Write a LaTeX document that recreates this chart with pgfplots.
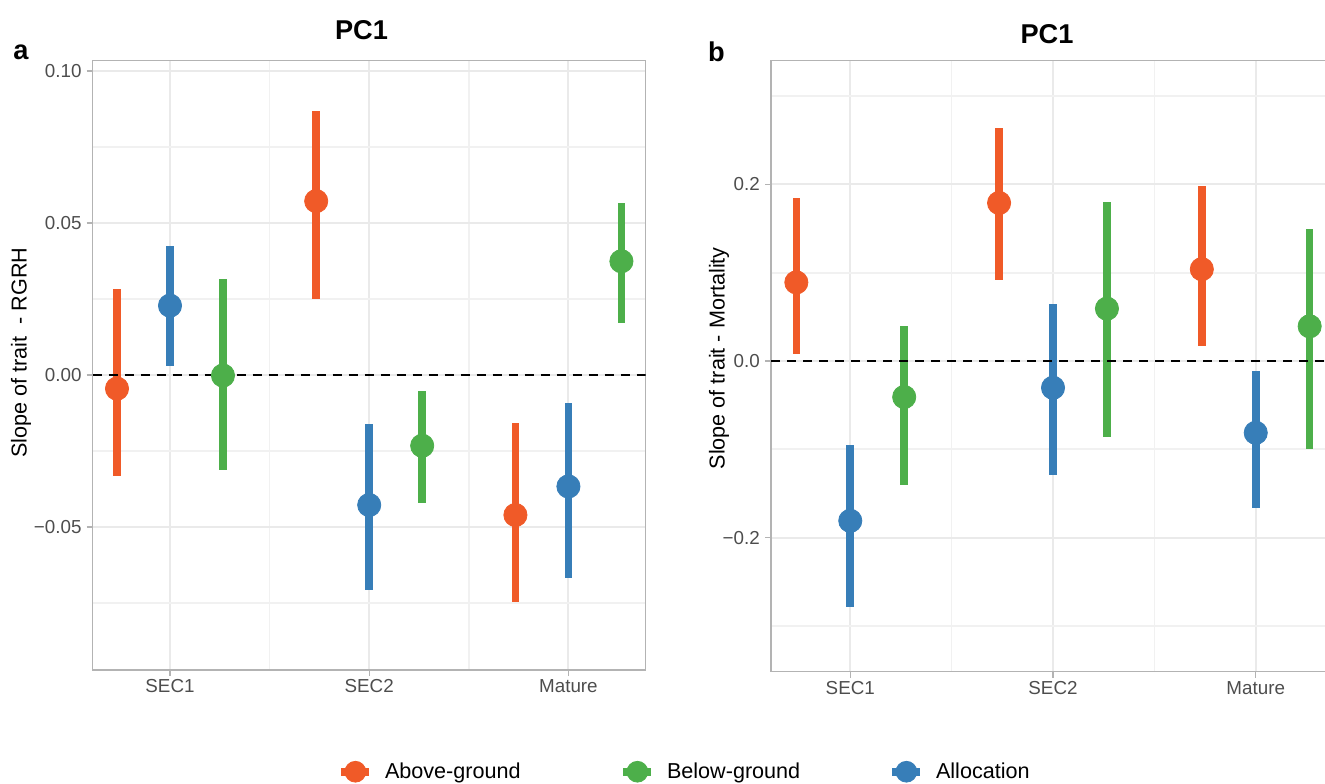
\documentclass[border=0pt]{standalone}
\usepackage{pgfplots}
\pgfplotsset{compat=1.18}
\usepackage{pgfplotstable}
\usepackage{fontspec}
\setmainfont{Liberation Sans}

\definecolor{above}{HTML}{F05A28}
\definecolor{below}{HTML}{4DAF4A}
\definecolor{alloc}{HTML}{377EB8}
\definecolor{gridmaj}{HTML}{EAEAEA}
\definecolor{gridmin}{HTML}{F1F1F1}
\definecolor{frame}{HTML}{B3B3B3}
\definecolor{ticktext}{HTML}{4D4D4D}

% x = stage (1 SEC1, 2 SEC2, 3 Mature) with dodge; y = slope; ep/em = upper/lower reach
\pgfplotstableread{
x     y       ep      em
0.734 -0.0045 0.0327 0.0287
1.734  0.0572 0.0296 0.0323
2.734 -0.0461 0.0302 0.0285
}\rgrhAbove
\pgfplotstableread{
x     y       ep      em
1      0.0228 0.0196 0.0197
2     -0.0428 0.0268 0.0279
3     -0.0367 0.0274 0.0300
}\rgrhAlloc
\pgfplotstableread{
x     y       ep      em
1.266 -0.0002 0.0317 0.0310
2.266 -0.0233 0.0180 0.0189
3.266  0.0374 0.0193 0.0204
}\rgrhBelow
\pgfplotstableread{
x     y       ep      em
0.734  0.0890 0.0960 0.0810
1.734  0.1790 0.0845 0.0873
2.734  0.1040 0.0945 0.0867
}\mortAbove
\pgfplotstableread{
x     y       ep      em
1     -0.1810 0.0859 0.0980
2     -0.0303 0.0943 0.0987
3     -0.0813 0.0700 0.0854
}\mortAlloc
\pgfplotstableread{
x     y       ep      em
1.266 -0.0408 0.0804 0.1002
2.266  0.0593 0.1207 0.1449
3.266  0.0393 0.1107 0.1387
}\mortBelow

\pgfplotsset{
  panel/.style={
    scale only axis,
    axis line style={frame, line width=0.7pt},
    xtick={1,2,3}, xticklabels={SEC1,SEC2,Mature},
    minor xtick={1.5,2.5},
    grid=both,
    major grid style={gridmaj, line width=1pt},
    minor grid style={gridmin, line width=0.8pt},
    tick align=outside, tick pos=left,
    major tick length=3pt, minor tick length=0pt,
    tick style={frame, line width=0.7pt},
    every tick label/.append style={inner sep=0pt, text=ticktext, font=\fontsize{9.4}{11}\selectfont},
    xticklabel style={anchor=north, yshift=-1.5pt},
    yticklabel style={anchor=east, xshift=-2.4pt},
    ylabel style={font=\fontsize{10.8}{13}\selectfont, anchor=center},
  },
  series/.style={
    color=#1, only marks, mark=*, mark size=5.8pt,
    mark options={draw=none, fill=#1},
    error bars/y dir=both, error bars/y explicit,
    error bars/error mark=none,
    error bars/error bar style={line width=3.8pt, color=#1},
    legend image code/.code={
      \draw[line width=4pt, #1] (-7pt,0pt) -- (7pt,0pt);
      \fill[#1] (0pt,0pt) circle (5.2pt);
    },
  },
  zero/.style={black, line width=1.1pt, dash pattern=on 4.7pt off 3.3pt, forget plot},
}

\begin{document}
\begin{tikzpicture}
\begin{axis}[panel,
  at={(46.35pt,56.5pt)}, anchor=south west,
  width=276.5pt, height=304.65pt,
  xmin=0.612, xmax=3.388,
  ymin=-0.0971, ymax=0.1034,
  ytick={-0.05,0,0.05,0.1}, yticklabels={−0.05,0.00,0.05,0.10},
  minor ytick={-0.075,-0.025,0.025,0.075},
  ylabel={Slope of trait\ \ - RGRH},
  ylabel style={at={(axis description cs:-0.1297,0.521)}}]
\addplot[series=above] table[x=x, y=y, y error plus=ep, y error minus=em] {\rgrhAbove};
\addplot[series=below] table[x=x, y=y, y error plus=ep, y error minus=em] {\rgrhBelow};
\addplot[series=alloc] table[x=x, y=y, y error plus=ep, y error minus=em] {\rgrhAlloc};
\addplot[zero] coordinates {(0.612,0) (3.388,0)};
\end{axis}

\begin{axis}[panel,
  at={(385.5pt,55.65pt)}, anchor=south west,
  width=282pt, height=305.5pt,
  xmin=0.609, xmax=3.391,
  ymin=-0.3519, ymax=0.3401,
  ytick={-0.2,0,0.2}, yticklabels={−0.2,0.0,0.2},
  minor ytick={-0.3,-0.1,0.1,0.3},
  ylabel={Slope of trait - Mortality},
  ylabel style={at={(axis description cs:-0.0922,0.513)}},
  legend columns=3,
  legend style={at={(axis description cs:-0.7695,-0.1637)}, anchor=west,
    draw=none, fill=none, inner sep=0pt,
    font=\fontsize{10.8}{13}\selectfont,
    nodes={inner sep=0pt},
    /tikz/every odd column/.append style={column sep=5.8pt}},
  legend cell align=left]
\addplot[series=above] table[x=x, y=y, y error plus=ep, y error minus=em] {\mortAbove};
\addlegendentry{\makebox[117.2pt][l]{Above-ground}}
\addplot[series=below] table[x=x, y=y, y error plus=ep, y error minus=em] {\mortBelow};
\addlegendentry{\makebox[110.7pt][l]{Below-ground}}
\addplot[series=alloc] table[x=x, y=y, y error plus=ep, y error minus=em] {\mortAlloc};
\addlegendentry{Allocation}
\addplot[zero] coordinates {(0.609,0) (3.391,0)};
\end{axis}

\node[font=\bfseries\fontsize{13.6}{16}\selectfont, anchor=base] at (180.75pt,371.5pt) {PC1};
\node[font=\bfseries\fontsize{13.6}{16}\selectfont, anchor=base] at (523.5pt,369.5pt) {PC1};
\node[font=\bfseries\fontsize{13.6}{16}\selectfont, anchor=base west, inner sep=0pt] at (6.5pt,361.5pt) {a};
\node[font=\bfseries\fontsize{13.6}{16}\selectfont, anchor=base west, inner sep=0pt] at (353.85pt,360.65pt) {b};

\pgfresetboundingbox
\path[use as bounding box] (0pt,0pt) rectangle (662.5pt,391.5pt);
\end{tikzpicture}
\end{document}
